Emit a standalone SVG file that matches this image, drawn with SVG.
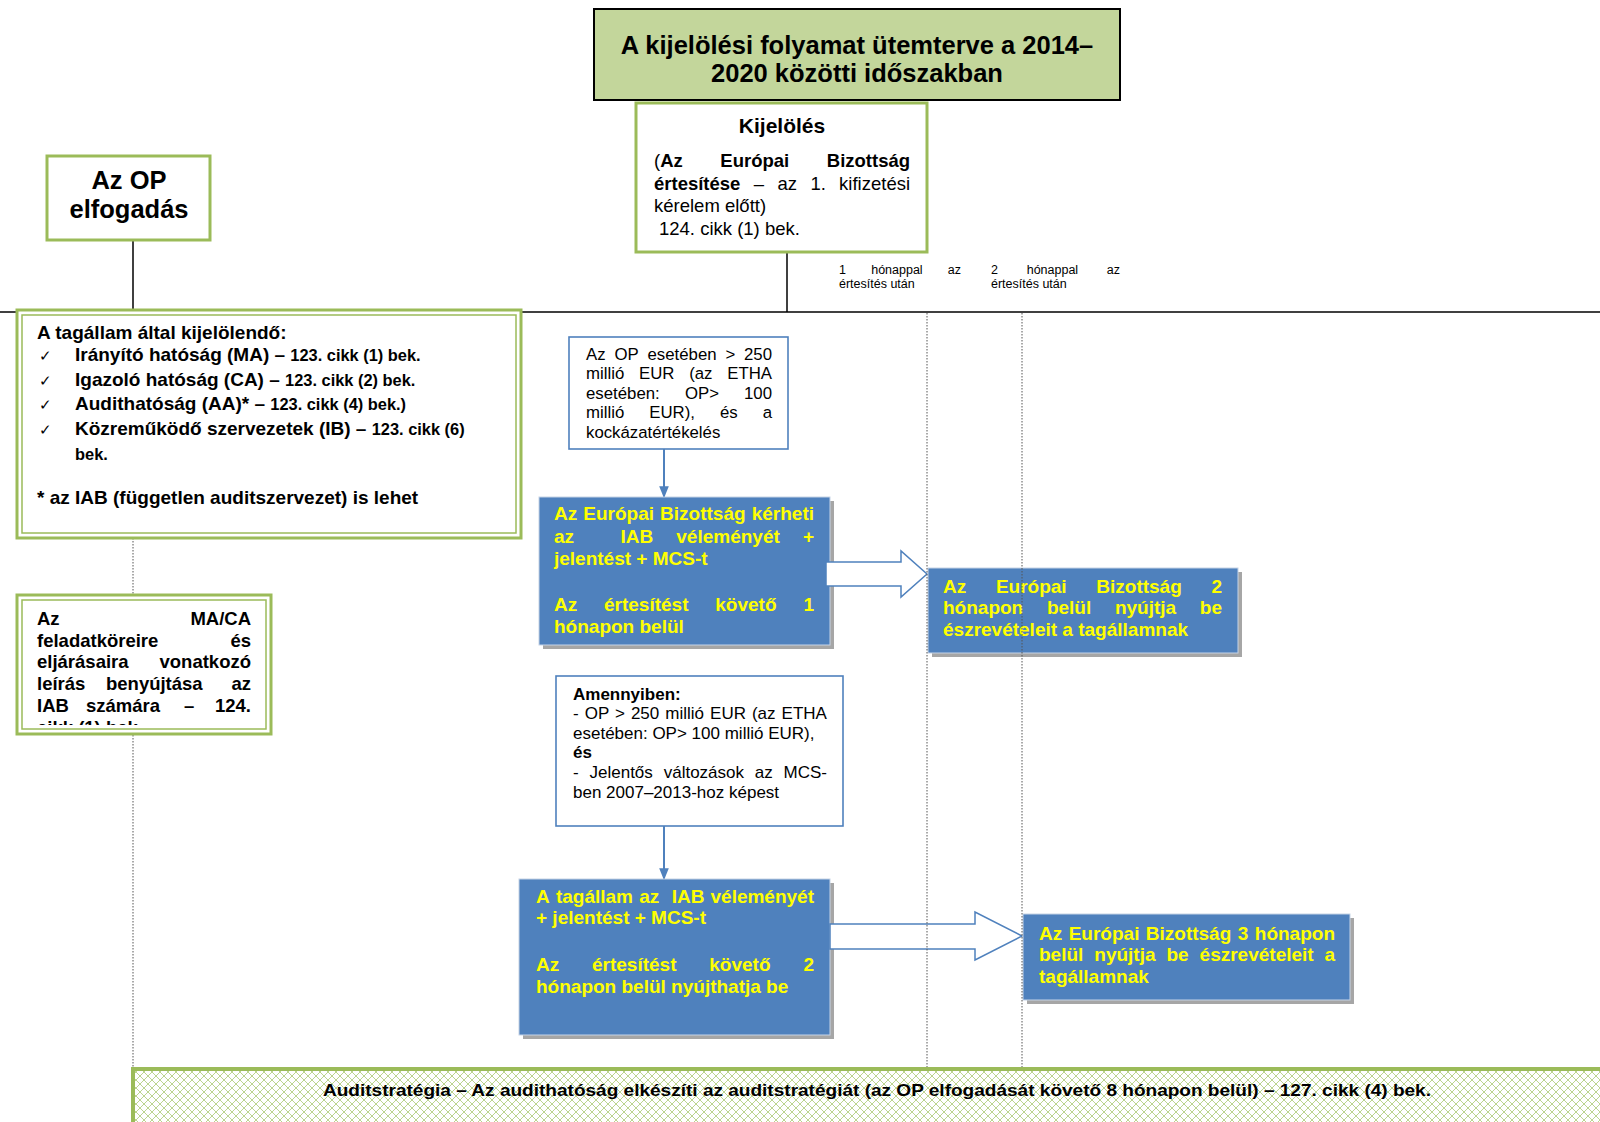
<svg xmlns="http://www.w3.org/2000/svg" width="1600" height="1122" viewBox="0 0 1600 1122">
<style>
text{font-family:"Liberation Sans",Arial,sans-serif;fill:#000}
.b{font-weight:bold}
.green{fill:#fff;stroke:#9BBB59;stroke-width:3}
.g2{fill:none;stroke:#9BBB59;stroke-width:1.5}
.bluebox{fill:#4F81BD;stroke:#c6d3e6;stroke-width:1}
.shadow{fill:#a6a6a6}
.yt{fill:#FFFF00;font-weight:bold;font-size:19px}
.outl{fill:#fff;stroke:#4F81BD;stroke-width:1.6}
.dot{stroke:#555;stroke-width:1;stroke-dasharray:1.5 1.5;fill:none}
.sol{stroke:#000;stroke-width:1.5;fill:none}
.blk{fill:#fff;stroke:#4F81BD;stroke-width:1.5}
</style>
<defs>
<marker id="ahb" viewBox="0 0 10 10" refX="9" refY="5" markerWidth="12" markerHeight="12" orient="auto" markerUnits="userSpaceOnUse">
<path d="M0,1 L10,5 L0,9 z" fill="#4F81BD"/>
</marker>
<pattern id="diam" width="8" height="8" patternUnits="userSpaceOnUse">
<rect width="8" height="8" fill="#fff"/>
<path d="M0,0 L8,8 M8,0 L0,8" stroke="#BCD48F" stroke-width="1"/>
</pattern>
<clipPath id="clipMA"><rect x="24" y="600" width="240" height="125"/></clipPath>
</defs>

<g id="title">
<rect x="594" y="9" width="526" height="91" fill="#C3D69B" stroke="#000" stroke-width="2"/>
<text x="857" y="54" class="b" font-size="25.5" text-anchor="middle">A kijelölési folyamat ütemterve a 2014–</text>
<text x="857" y="82" class="b" font-size="25.5" text-anchor="middle">2020 közötti időszakban</text>
</g>

<g id="connectors">
<line x1="0" y1="312" x2="1600" y2="312" class="sol"/>
<line x1="787" y1="252" x2="787" y2="312" class="sol"/>
<line x1="133" y1="240" x2="133" y2="312" class="sol"/>
<line x1="133" y1="538" x2="133" y2="594" class="dot"/>
<line x1="133" y1="735" x2="133" y2="1067" class="dot"/>
<line x1="664" y1="449" x2="664" y2="497" stroke="#4F81BD" stroke-width="2" marker-end="url(#ahb)"/>
<line x1="664" y1="826" x2="664" y2="879" stroke="#4F81BD" stroke-width="2" marker-end="url(#ahb)"/>
</g>

<g id="kijeloles">
<rect x="636" y="103" width="291" height="149" class="green"/>
<text x="782" y="133" class="b" font-size="21" text-anchor="middle">Kijelölés</text>
<g font-size="18.5">
<text y="167"><tspan x="654">(</tspan><tspan class="b">Az</tspan><tspan x="720.3" class="b">Európai</tspan><tspan x="826.8" class="b">Bizottság</tspan></text>
<text y="190"><tspan x="654" class="b">értesítése</tspan><tspan x="753.8">–</tspan><tspan x="777.5">az</tspan><tspan x="810.4">1.</tspan><tspan x="839.1">kifizetési</tspan></text>
<text x="654" y="212">kérelem előtt)</text>
<text x="659" y="235">124. cikk (1) bek.</text>
</g>
</g>

<g id="op-elfogadas">
<rect x="47" y="156" width="163" height="84" class="green"/>
<text x="129" y="189" class="b" font-size="25.5" text-anchor="middle">Az OP</text>
<text x="129" y="218" class="b" font-size="25.5" text-anchor="middle">elfogadás</text>
</g>

<g id="labels" font-size="12.5">
<text y="274"><tspan x="839">1</tspan><tspan x="871.2">hónappal</tspan><tspan x="947.8">az</tspan></text>
<text x="839" y="288">értesítés után</text>
<text y="274"><tspan x="991">2</tspan><tspan x="1026.7">hónappal</tspan><tspan x="1106.8">az</tspan></text>
<text x="991" y="288">értesítés után</text>
</g>

<g id="tagallam">
<rect x="17" y="310" width="504" height="228" fill="#fff" stroke="#9BBB59" stroke-width="3"/>
<rect x="22" y="315" width="494" height="218" class="g2"/>
<text x="37" y="339" class="b" font-size="19">A tagállam által kijelölendő:</text>
<text x="39" y="361" font-size="15" font-family="DejaVu Sans">✓</text>
<text x="75" y="361" class="b" font-size="19">Irányító hatóság (MA) – <tspan font-size="16.4">123. cikk (1) bek.</tspan></text>
<text x="39" y="386" font-size="15" font-family="DejaVu Sans">✓</text>
<text x="75" y="386" class="b" font-size="19">Igazoló hatóság (CA) – <tspan font-size="16.4">123. cikk (2) bek.</tspan></text>
<text x="39" y="410" font-size="15" font-family="DejaVu Sans">✓</text>
<text x="75" y="410" class="b" font-size="19">Audithatóság (AA)* – <tspan font-size="16.4">123. cikk (4) bek.)</tspan></text>
<text x="39" y="435" font-size="15" font-family="DejaVu Sans">✓</text>
<text x="75" y="435" class="b" font-size="19">Közreműködő szervezetek (IB) – <tspan font-size="16.4">123. cikk (6)</tspan></text>
<text x="75" y="460" class="b" font-size="16.4">bek.</text>
<text x="37" y="504" class="b" font-size="19">* az IAB (független auditszervezet) is lehet</text>
</g>

<g id="maca">
<rect x="17" y="595" width="254" height="139" fill="#fff" stroke="#9BBB59" stroke-width="3"/>
<rect x="22" y="600" width="244" height="129" class="g2"/>
<g clip-path="url(#clipMA)" font-size="18.5" font-weight="bold">
<text y="625"><tspan x="37">Az</tspan><tspan x="190.4">MA/CA</tspan></text>
<text y="647"><tspan x="37">feladatköreire</tspan><tspan x="230.4">és</tspan></text>
<text y="668"><tspan x="37">eljárásaira</tspan><tspan x="159.5">vonatkozó</tspan></text>
<text y="690"><tspan x="37">leírás</tspan><tspan x="106">benyújtása</tspan><tspan x="231.5">az</tspan></text>
<text y="712"><tspan x="37">IAB</tspan><tspan x="86">számára</tspan><tspan x="184.1">–</tspan><tspan x="215">124.</tspan></text>
<text x="37" y="734">cikk (1) bek.</text>
</g>
</g>

<g id="cond1">
<rect x="569" y="337" width="219" height="112" class="outl"/>
<g font-size="16.8">
<text y="360"><tspan x="586">Az</tspan><tspan x="614.4">OP</tspan><tspan x="647.5">esetében</tspan><tspan x="725.4">&gt;</tspan><tspan x="744">250</tspan></text>
<text y="379"><tspan x="586">millió</tspan><tspan x="639">EUR</tspan><tspan x="689.2">(az</tspan><tspan x="727.2">ETHA</tspan></text>
<text y="399"><tspan x="586">esetében:</tspan><tspan x="684.9">OP&gt;</tspan><tspan x="744">100</tspan></text>
<text y="418"><tspan x="586">millió</tspan><tspan x="649.3">EUR),</tspan><tspan x="720">és</tspan><tspan x="762.7">a</tspan></text>
<text x="586" y="438">kockázatértékelés</text>
</g>
</g>

<g id="box1">
<rect x="543" y="501" width="291" height="148" class="shadow"/>
<rect x="539" y="497" width="291" height="148" class="bluebox"/>
<text y="520" class="yt"><tspan x="554">Az</tspan><tspan x="583.3">Európai</tspan><tspan x="660.1">Bizottság</tspan><tspan x="751.7">kérheti</tspan></text>
<text y="543" class="yt"><tspan x="554">az</tspan><tspan x="620.4">IAB</tspan><tspan x="676.3">véleményét</tspan><tspan x="802.9">+</tspan></text>
<text x="554" y="565" class="yt">jelentést + MCS-t</text>
<text y="611" class="yt"><tspan x="554">Az</tspan><tspan x="604">értesítést</tspan><tspan x="715.3">követő</tspan><tspan x="803.4">1</tspan></text>
<text x="554" y="633" class="yt">hónapon belül</text>
</g>

<g id="arrow1">
<polygon points="826,562 901,562 901,551 927,574 901,597 901,586 826,586" class="blk"/>
</g>

<g id="box2">
<rect x="932" y="572" width="310" height="85" class="shadow"/>
<rect x="928" y="568" width="310" height="85" class="bluebox"/>
<text y="593" class="yt"><tspan x="943">Az</tspan><tspan x="995.9">Európai</tspan><tspan x="1096.3">Bizottság</tspan><tspan x="1211.4">2</tspan></text>
<text y="614" class="yt"><tspan x="943">hónapon</tspan><tspan x="1046.9">belül</tspan><tspan x="1114.9">nyújtja</tspan><tspan x="1199.8">be</tspan></text>
<text x="943" y="636" class="yt">észrevételeit a tagállamnak</text>
</g>

<g id="cond2">
<rect x="556" y="676" width="287" height="150" class="outl"/>
<g font-size="17">
<text x="573" y="700" class="b">Amennyiben:</text>
<text x="573" y="719" word-spacing="1.3">- OP &gt; 250 millió EUR (az ETHA</text>
<text x="573" y="739">esetében: OP&gt; 100 millió EUR),</text>
<text x="573" y="758" class="b">és</text>
<text y="778"><tspan x="573">-</tspan><tspan x="589.5">Jelentős</tspan><tspan x="663.7">változások</tspan><tspan x="754.8">az</tspan><tspan x="783.6">MCS-</tspan></text>
<text x="573" y="798">ben 2007–2013-hoz képest</text>
</g>
</g>

<g id="box3">
<rect x="523" y="883" width="311" height="156" class="shadow"/>
<rect x="519" y="879" width="311" height="156" class="bluebox"/>
<text y="903" class="yt"><tspan x="536">A</tspan><tspan x="555.9">tagállam</tspan><tspan x="639.2">az</tspan><tspan x="671.7">IAB</tspan><tspan x="710.5">véleményét</tspan></text>
<text x="536" y="924" class="yt">+ jelentést + MCS-t</text>
<text y="971" class="yt"><tspan x="536">Az</tspan><tspan x="592">értesítést</tspan><tspan x="709.3">követő</tspan><tspan x="803.4">2</tspan></text>
<text x="536" y="993" class="yt">hónapon belül nyújthatja be</text>
</g>

<g id="arrow2">
<polygon points="830,924 975,924 975,912 1022,936 975,960 975,949 830,949" class="blk"/>
</g>

<g id="box4">
<rect x="1027" y="918" width="327" height="86" class="shadow"/>
<rect x="1023" y="914" width="327" height="86" class="bluebox"/>
<text y="940" class="yt"><tspan x="1039">Az</tspan><tspan x="1068.7">Európai</tspan><tspan x="1145.8">Bizottság</tspan><tspan x="1237.8">3</tspan><tspan x="1254.8">hónapon</tspan></text>
<text y="961" class="yt"><tspan x="1039">belül</tspan><tspan x="1094.3">nyújtja</tspan><tspan x="1166.4">be</tspan><tspan x="1199.6">észrevételeit</tspan><tspan x="1324.4">a</tspan></text>
<text x="1039" y="983" class="yt">tagállamnak</text>
</g>

<g id="timelines">
<line x1="927" y1="313" x2="927" y2="1067" class="dot"/>
<line x1="1022" y1="313" x2="1022" y2="1067" class="dot"/>
</g>

<g id="auditstrategia">
<rect x="133" y="1069" width="1470" height="60" fill="url(#diam)" stroke="#9BBB59" stroke-width="4"/>
<text x="877" y="1096" class="b" font-size="17" text-anchor="middle" textLength="1108" lengthAdjust="spacingAndGlyphs">Auditstratégia – Az audithatóság elkészíti az auditstratégiát (az OP elfogadását követő 8 hónapon belül) – 127. cikk (4) bek.</text>
</g>
</svg>
